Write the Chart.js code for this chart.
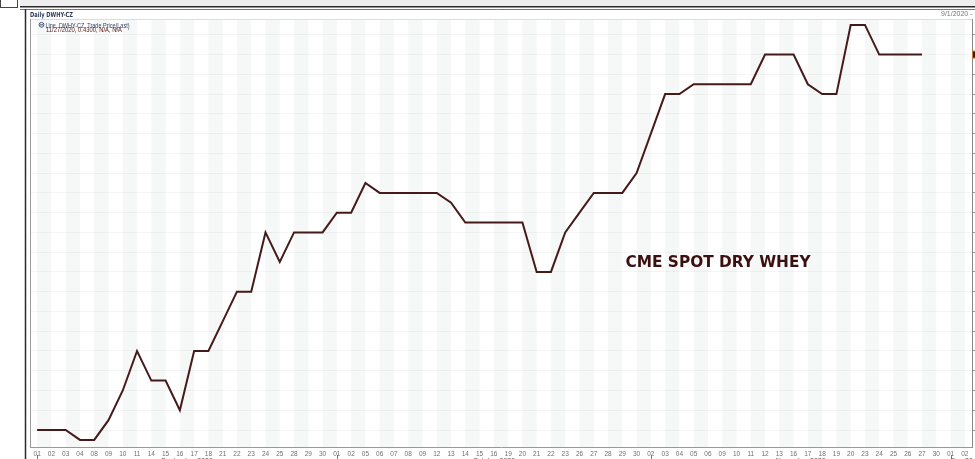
<!DOCTYPE html>
<html><head><meta charset="utf-8">
<script src="https://cdn.jsdelivr.net/npm/chart.js@4.4.1/dist/chart.umd.min.js"></script>
<style>html,body{margin:0;padding:0;background:#fff;overflow:hidden}#wrap{position:relative;width:975px;height:459px}</style>
</head><body><div id="wrap"><canvas id="c" width="975" height="459"></canvas></div>
<script>
// Trading-day tick labels, Sep 1 2020 .. Dec 2 2020
const dayLabels = ['01','02','03','04','08','09','10','11','14','15','16','17','18','21','22','23','24','25','28','29','30',
 '01','02','05','06','07','08','09','12','13','14','15','16','19','20','21','22','23','26','27','28','29','30',
 '02','03','04','05','06','09','10','11','12','13','16','17','18','19','20','23','24','25','26','27','30',
 '01','02'];
const monthNames = ['September 2020','October 2020','November 2020','Dec 20'];
const monthStartIdx = [0,21,43,64];
// CME spot dry whey, $/lb
const septPrices = [0.335,0.335,0.335,0.3325,0.3325,0.3375,0.345,0.355,0.3475,0.3475,0.34,0.355,0.355,0.3625,0.37,0.37,0.385,0.3775,0.385,0.385,0.385];
const octPrices = [0.39,0.39,0.3975,0.395,0.395,0.395,0.395,0.395,0.3925,0.3875,0.3875,0.3875,0.3875,0.3875,0.375,0.375,0.385,0.39,0.395,0.395,0.395,0.40];
const novPrices = [0.41,0.42,0.42,0.4225,0.4225,0.4225,0.4225,0.4225,0.43,0.43,0.43,0.4225,0.42,0.42,0.4375,0.4375,0.43,0.43,0.43,0.43,null];
const decPrices = [null,null];
const yGridValues = [0.335,0.34,0.345,0.35,0.355,0.36,0.365,0.37,0.375,0.38,0.385,0.39,0.395,0.40,0.405,0.41,0.415,0.42,0.425,0.43,0.435];
const seriesTitle = 'Line, DWHY-CZ, Trade Price(Last)';
const lastValueText = '11/27/2020, 0.4300, N/A, N/A';
const chartTitle = 'Daily DWHY-CZ';
const rangeText = '9/1/2020 - 12';
const annotationText = 'CME SPOT DRY WHEY';

const prices = [...septPrices, ...octPrices, ...novPrices, ...decPrices];

const chromePlugin = {
  id: 'chrome',
  beforeDraw(chart) {
    const {ctx, chartArea: a, scales: {x}} = chart;
    ctx.save();
    ctx.fillStyle = '#fff';
    ctx.fillRect(0, 0, chart.width, chart.height);
    ctx.fillStyle = '#f6f7f7';
    for (let i = 0; i < dayLabels.length - 1; i += 2) {
      const x0 = x.getPixelForValue(i), x1 = x.getPixelForValue(i + 1);
      ctx.fillRect(x0, a.top, x1 - x0, a.bottom - a.top);
    }
    ctx.restore();
  },
  afterDraw(chart) {
    const {ctx, chartArea: a, scales: {x}} = chart;
    ctx.save();
    // top window band
    ctx.fillStyle = '#eeeeee';
    ctx.fillRect(20, 0, 955, 6);
    ctx.strokeStyle = '#2a2a2a'; ctx.lineWidth = 1.5;
    ctx.beginPath(); ctx.moveTo(20, 6.8); ctx.lineTo(975, 6.8); ctx.stroke();
    ctx.strokeStyle = '#777'; ctx.lineWidth = 1;
    ctx.beginPath(); ctx.moveTo(20, 9.5); ctx.lineTo(975, 9.5); ctx.stroke();
    ctx.strokeStyle = '#444';
    ctx.strokeRect(0.5, -0.5, 17, 8);
    ctx.strokeStyle = '#2a2a2a'; ctx.lineWidth = 1.5;
    ctx.beginPath(); ctx.moveTo(25.5, 9); ctx.lineTo(25.5, 459); ctx.stroke();
    // plot frame
    ctx.lineWidth = 1;
    ctx.strokeStyle = '#dcdcdc';
    ctx.beginPath(); ctx.moveTo(a.left, a.top + 0.5); ctx.lineTo(a.right, a.top + 0.5); ctx.stroke();
    ctx.strokeStyle = '#999';
    ctx.beginPath(); ctx.moveTo(a.left + 0.5, a.top); ctx.lineTo(a.left + 0.5, a.bottom); ctx.stroke();
    // header
    ctx.fillStyle = '#2e3d5c';
    ctx.font = 'bold 7px "DejaVu Sans"';
    ctx.textBaseline = 'alphabetic';
    ctx.fillText(chartTitle, 30, 16.5, 43);
    ctx.fillStyle = '#777';
    ctx.font = '7px "Liberation Sans"';
    ctx.fillText(rangeText, 941, 16.3);
    // legend
    ctx.strokeStyle = '#4a5878'; ctx.fillStyle = '#e8ecf4';
    ctx.beginPath(); ctx.arc(41.5, 24.8, 2.4, 0, Math.PI * 2); ctx.fill(); ctx.stroke();
    ctx.beginPath(); ctx.moveTo(40, 24.8); ctx.lineTo(43, 24.8); ctx.stroke();
    ctx.fillStyle = '#33415f';
    ctx.font = '6.5px "Liberation Sans"';
    ctx.fillText(seriesTitle, 45.5, 27.5, 84);
    ctx.fillStyle = '#5a1d1d';
    ctx.fillText(lastValueText, 46, 31.5, 76);
    // annotation
    ctx.fillStyle = '#3b1010';
    ctx.font = 'bold 16px "DejaVu Sans"';
    ctx.fillText(annotationText, 625.5, 266.8, 185);
    // last value tag at right edge
    const yS = chart.scales.y;
    const lastIdx = prices.reduce((m, v, i) => v !== null ? i : m, 0);
    const ly = yS.getPixelForValue(prices[lastIdx]);
    ctx.fillStyle = '#3a1a1a'; ctx.fillRect(972.5, ly - 3.5, 3, 7);
    ctx.strokeStyle = '#c8782c'; ctx.strokeRect(972.5, ly - 3.5, 4, 7);
    // month markers and labels
    ctx.fillStyle = '#555'; ctx.strokeStyle = '#777';
    ctx.font = '7px "Liberation Sans"';
    for (let m = 0; m < monthNames.length; m++) {
      const xs = x.getPixelForValue(monthStartIdx[m]);
      ctx.beginPath(); ctx.moveTo(Math.round(xs) + 0.5, 455); ctx.lineTo(Math.round(xs) + 0.5, 459); ctx.stroke();
      if (m < monthNames.length - 1) {
        const xe = x.getPixelForValue(monthStartIdx[m + 1]);
        ctx.textAlign = 'center';
        ctx.fillText(monthNames[m], (xs + xe) / 2, 463);
      } else {
        ctx.textAlign = 'left';
        ctx.fillText(monthNames[m], xs, 463);
      }
    }
    ctx.restore();
  }
};

new Chart(document.getElementById('c'), {
  type: 'line',
  data: {
    labels: dayLabels,
    datasets: [{
      data: prices,
      borderColor: '#451a1a',
      borderWidth: 2,
      pointRadius: 0,
      tension: 0,
      fill: false,
      spanGaps: false
    }]
  },
  options: {
    responsive: false,
    animation: false,
    devicePixelRatio: 1,
    layout: {padding: {top: 19, left: 30, right: 0, bottom: 0}},
    plugins: {legend: {display: false}, tooltip: {enabled: false}},
    scales: {
      x: {
        offset: true,
        grid: {display: false, drawTicks: false},
        border: {display: true, color: '#999'},
        ticks: {autoSkip: false, maxRotation: 0, minRotation: 0, padding: 3,
          color: '#707070', font: {family: 'Liberation Sans', size: 6.5}},
        afterFit(s) { s.height = 12; }
      },
      y: {
        position: 'right',
        min: 0.3307,
        max: 0.4390,
        afterBuildTicks(s) { s.ticks = yGridValues.map(v => ({value: v})); },
        grid: {color: 'rgba(0,0,0,0.04)', tickColor: '#999', tickLength: 3, drawTicks: true},
        border: {display: true, color: '#8a8a8a'},
        ticks: {display: false}
      }
    }
  },
  plugins: [chromePlugin]
});
</script>
</body></html>
